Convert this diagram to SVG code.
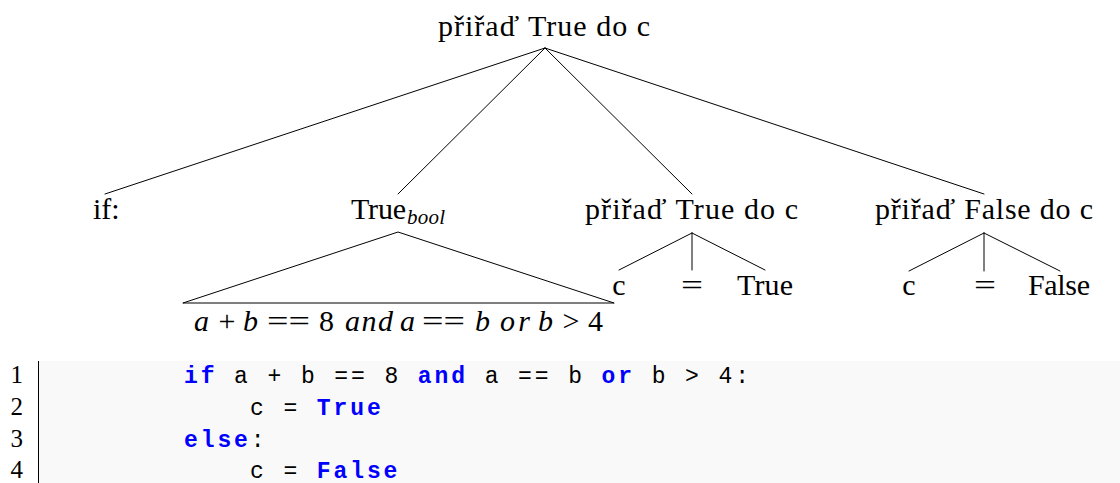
<svg xmlns="http://www.w3.org/2000/svg" width="1120" height="483" viewBox="0 0 1120 483">
<style>
.t{font-family:"Liberation Serif","Times New Roman",serif;font-size:30px;fill:#000}
.i{font-style:italic}
.e{stroke:#000;stroke-width:1;fill:none;stroke-linecap:round}
.code{font-family:"Liberation Mono","Courier New",monospace;font-size:23px;letter-spacing:2.9px;fill:#000;white-space:pre}
.kw{fill:#0000ff;font-weight:bold}
.ln{font-family:"Liberation Serif","Times New Roman",serif;font-size:25px;fill:#000}
</style>
<rect width="1120" height="483" fill="#fff"/>
<g id="connectors">
<line class="e" x1="545" y1="48" x2="105" y2="194"/>
<line class="e" x1="545" y1="48" x2="398" y2="194"/>
<line class="e" x1="545" y1="48" x2="692" y2="194"/>
<line class="e" x1="545" y1="48" x2="984" y2="194"/>
<polyline class="e" points="183,303 398,232 614,303"/>
<line x1="183" y1="303" x2="614" y2="303" stroke="#000" stroke-width="1"/>
<line class="e" x1="692" y1="233" x2="619" y2="270"/>
<line class="e" x1="692" y1="233" x2="692" y2="270"/>
<line class="e" x1="692" y1="233" x2="765" y2="270"/>
<line class="e" x1="984" y1="233" x2="909" y2="271"/>
<line class="e" x1="984" y1="233" x2="984" y2="271"/>
<line class="e" x1="984" y1="233" x2="1060" y2="271"/>
</g>
<g id="root"><text class="t" x="438" y="36" textLength="212" lengthAdjust="spacing">přiřaď True do c</text></g>
<g id="if"><text class="t" x="93" y="219">if:</text></g>
<g id="truebool">
<text class="t" x="351" y="219" textLength="55" lengthAdjust="spacing">True</text>
<text class="t i" x="407" y="224" style="font-size:21px" textLength="38" lengthAdjust="spacing">bool</text>
</g>
<g id="expr">
<text class="t i" x="194" y="331">a</text>
<text class="t" x="227" y="331" text-anchor="middle">+</text>
<text class="t i" x="243" y="331">b</text>
<text class="t" x="267" y="331" textLength="43" lengthAdjust="spacingAndGlyphs">==</text>
<text class="t" x="319" y="331">8</text>
<text class="t i" x="345" y="331" textLength="48" lengthAdjust="spacing">and</text>
<text class="t i" x="400" y="331">a</text>
<text class="t" x="422" y="331" textLength="43" lengthAdjust="spacingAndGlyphs">==</text>
<text class="t i" x="475" y="331">b</text>
<text class="t i" x="500" y="331" textLength="30" lengthAdjust="spacing">or</text>
<text class="t i" x="538" y="331">b</text>
<text class="t" x="571" y="331" text-anchor="middle">&gt;</text>
<text class="t" x="588" y="331">4</text>
</g>
<g id="assignTrue"><text class="t" x="585" y="219" textLength="213" lengthAdjust="spacing">přiřaď True do c</text></g>
<g id="assignFalse"><text class="t" x="875" y="219" textLength="218" lengthAdjust="spacing">přiřaď False do c</text></g>
<g id="c1"><text class="t" x="619" y="295" text-anchor="middle">c</text></g>
<g id="eq1"><text class="t" x="681" y="295" textLength="22" lengthAdjust="spacingAndGlyphs">=</text></g>
<g id="true1"><text class="t" x="737" y="295" textLength="56" lengthAdjust="spacing">True</text></g>
<g id="c2"><text class="t" x="909" y="295" text-anchor="middle">c</text></g>
<g id="eq2"><text class="t" x="974" y="295" textLength="22" lengthAdjust="spacingAndGlyphs">=</text></g>
<g id="false2"><text class="t" x="1028" y="295" textLength="62" lengthAdjust="spacing">False</text></g>
<g id="code">
<rect x="39" y="361" width="1081" height="122" fill="#f9f9f9"/>
<line x1="38.5" y1="361" x2="38.5" y2="483" stroke="#000" stroke-width="1"/>
<text class="ln" x="23" y="383" text-anchor="end">1</text>
<text class="ln" x="23" y="415" text-anchor="end">2</text>
<text class="ln" x="23" y="447" text-anchor="end">3</text>
<text class="ln" x="23" y="478" text-anchor="end">4</text>
<text class="code" x="184" y="383"><tspan class="kw">if</tspan> a + b == 8 <tspan class="kw">and</tspan> a == b <tspan class="kw">or</tspan> b &gt; 4:</text>
<text class="code" x="250" y="415">c = <tspan class="kw">True</tspan></text>
<text class="code" x="184" y="447"><tspan class="kw">else</tspan>:</text>
<text class="code" x="250" y="478">c = <tspan class="kw">False</tspan></text>
</g>
</svg>
